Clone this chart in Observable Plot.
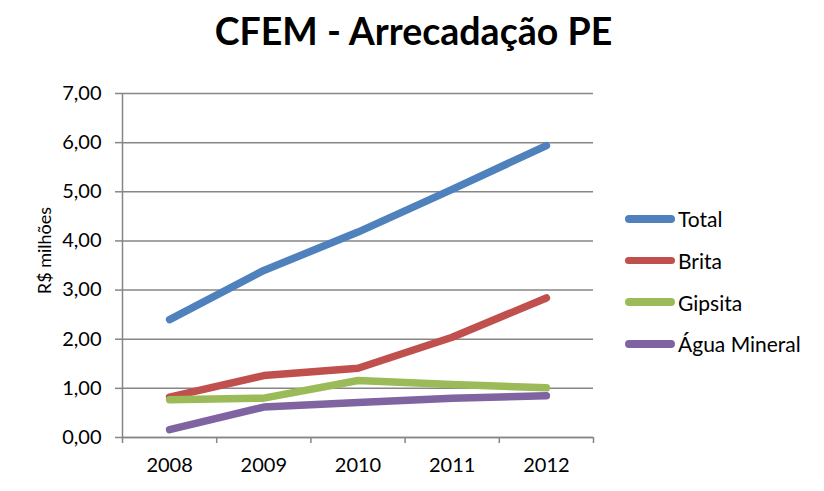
<!DOCTYPE html>
<html>
<head>
<meta charset="utf-8">
<script src="https://cdn.jsdelivr.net/npm/d3@7"></script>
<script src="https://cdn.jsdelivr.net/npm/@observablehq/plot@0.6"></script>
<style>
  html, body { margin: 0; padding: 0; background: #fff; }
  #wrap { position: relative; width: 824px; height: 491px; font-family: Lato, "Open Sans", sans-serif; }
  #title { position: absolute; left: 0; top: 9px; width: 827px; text-align: center; font-size: 37.5px; font-weight: bold; color: #000; line-height: 44px; }
  #chart { position: absolute; left: 0; top: 0; }
  #legend { position: absolute; left: 625px; top: 198px; font-size: 21px; color: #000; }
  .item { display: flex; align-items: center; height: 41.7px; }
  .sw { width: 50px; height: 7.5px; border-radius: 4px; margin-right: 3px; }
</style>
</head>
<body>
<div id="wrap">
  <div id="chart"></div>
  <div id="title">CFEM - Arrecadação PE</div>
  <div id="legend"></div>
</div>
<script>
const years = ["2008", "2009", "2010", "2011", "2012"];
const seriesNames = ["Total", "Brita", "Gipsita", "Água Mineral"];
const seriesColors = ["#4F81BD", "#C0504D", "#9BBB59", "#8064A2"];
const total = [2.40, 3.40, 4.18, 5.05, 5.94];
const brita = [0.82, 1.26, 1.41, 2.04, 2.84];
const gipsita = [0.77, 0.80, 1.16, 1.08, 1.01];
const agua = [0.16, 0.62, 0.71, 0.80, 0.85];
const yTicks = [0, 1, 2, 3, 4, 5, 6, 7];
const xBoundaries = [2007.5, 2008.5, 2009.5, 2010.5, 2011.5, 2012.5];

const seriesValues = [total, brita, gipsita, agua];
const rows = [];
seriesNames.forEach((name, i) => {
  years.forEach((yr, j) => rows.push({series: name, year: +yr, value: seriesValues[i][j]}));
});

const fmt = d => d.toFixed(2).replace(".", ",");

const plot = Plot.plot({
  width: 824,
  height: 491,
  marginLeft: 122,
  marginRight: 231,
  marginTop: 93,
  marginBottom: 54,
  style: {fontFamily: "Lato, 'Open Sans', sans-serif", fontSize: "20px", color: "#000", background: "#fff"},
  x: {domain: [2007.5, 2012.5]},
  y: {domain: [0, 7]},
  color: {domain: seriesNames, range: seriesColors},
  marks: [
    Plot.gridY(yTicks, {stroke: "#868686", strokeOpacity: 1, strokeWidth: 1.5}),
    Plot.axisY(yTicks, {tickSize: 7, stroke: "#868686", strokeWidth: 1.5, tickFormat: fmt, tickPadding: 14, fontSize: 20, label: null}),
    Plot.ruleX([2007.5], {stroke: "#868686", strokeWidth: 1.5}),
    Plot.axisX(xBoundaries, {tickSize: 6, stroke: "#868686", strokeWidth: 1.5, tickFormat: () => "", label: null}),
    Plot.axisX(years.map(Number), {tickSize: 0, tickPadding: 20, tickFormat: d => String(d), fontSize: 20, label: null}),
    Plot.ruleY([0], {stroke: "#868686", strokeWidth: 1.5}),
    Plot.text(["R$ milhões"], {frameAnchor: "left", textAnchor: "middle", rotate: -90, dx: -77, dy: -15, fontSize: 18, text: d => d}),
    Plot.line(rows, {x: "year", y: "value", z: "series", stroke: "series", strokeWidth: 7.5, strokeLinecap: "round", strokeLinejoin: "round"})
  ]
});
document.getElementById("chart").appendChild(plot);

const legend = document.getElementById("legend");
seriesNames.forEach((name, i) => {
  const it = document.createElement("div");
  it.className = "item";
  it.innerHTML = `<div class="sw" style="background:${seriesColors[i]}"></div><span>${name}</span>`;
  legend.appendChild(it);
});
</script>
</body>
</html>
